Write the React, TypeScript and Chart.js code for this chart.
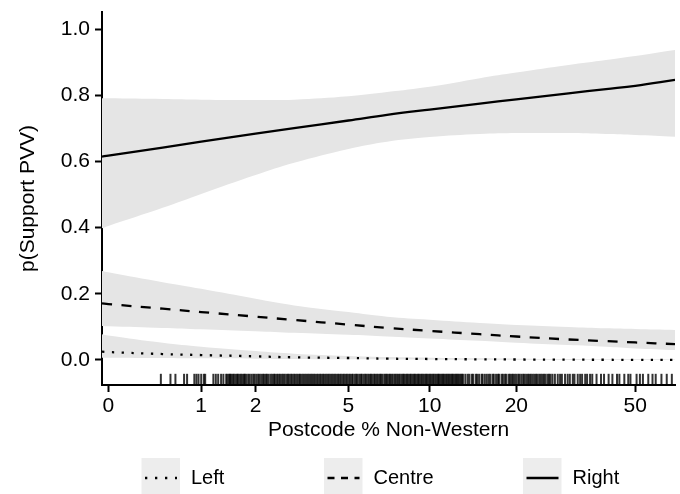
import React, { useEffect, useRef } from 'react';
import { Chart, registerables } from 'chart.js';

Chart.register(...registerables);

// ---- data (x in "Postcode % Non-Western", y = p(Support PVV)) ----
const X_PCT = [-0.046, 0, 0.5, 1, 2, 3, 5, 7, 10, 15, 20, 30, 40, 50, 67.6];

const RIGHT_FIT = [0.615, 0.618, 0.642, 0.660, 0.684, 0.701, 0.724, 0.741, 0.757, 0.775, 0.788, 0.806, 0.819, 0.829, 0.847];
const RIGHT_HI = [0.791, 0.791, 0.789, 0.787, 0.786, 0.787, 0.797, 0.810, 0.826, 0.852, 0.869, 0.892, 0.907, 0.919, 0.937];
const RIGHT_LO = [0.398, 0.405, 0.460, 0.502, 0.559, 0.596, 0.638, 0.660, 0.674, 0.683, 0.686, 0.686, 0.683, 0.680, 0.675];

const CENTRE_FIT = [0.171, 0.169, 0.155, 0.145, 0.131, 0.121, 0.107, 0.097, 0.088, 0.078, 0.071, 0.062, 0.057, 0.053, 0.048];
const CENTRE_HI = [0.269, 0.265, 0.235, 0.215, 0.185, 0.165, 0.145, 0.131, 0.122, 0.112, 0.106, 0.100, 0.096, 0.094, 0.091];
const CENTRE_LO = [0.103, 0.102, 0.097, 0.093, 0.087, 0.082, 0.076, 0.071, 0.065, 0.058, 0.052, 0.045, 0.040, 0.035, 0.030];

const LEFT_FIT = [0.025, 0.024, 0.018, 0.015, 0.011, 0.008, 0.006, 0.004, 0.003, 0.002, 0.0015, 0.001, 0.0007, 0.0005, 0.0003];
const LEFT_HI = [0.078, 0.074, 0.052, 0.040, 0.027, 0.019, 0.012, 0.009, 0.007, 0.005, 0.004, 0.003, 0.002, 0.002, 0.0015];
const LEFT_LO = [0.007, 0.007, 0.006, 0.005, 0.004, 0.003, 0.002, 0.0015, 0.001, 0.0007, 0.0005, 0.0003, 0.0002, 0.0001, 0.0001];

const GROUPS = ['Left', 'Centre', 'Right'];

const X_TICKS = [0, 1, 2, 5, 10, 20, 50];
const X_TICK_LABELS = ['0', '1', '2', '5', '10', '20', '50'];
const Y_TICKS = [0, 0.2, 0.4, 0.6, 0.8, 1.0];
const Y_TICK_LABELS = ['0.0', '0.2', '0.4', '0.6', '0.8', '1.0'];
const X_MIN_PCT = -0.046;
const X_MAX_PCT = 67.6;
const Y_MIN = -0.0756;
const Y_MAX = 1.052;

// observed postcode values (rug)
const RUG_PCT = [
  0.48, 0.59, 0.65, 0.76, 0.8, 0.9, 0.93, 0.96, 1.0, 1.04, 1.06, 1.19, 1.23, 1.27, 1.32, 1.36,
  1.41, 1.43, 1.46, 1.48, 1.5, 1.53, 1.55, 1.58, 1.61, 1.63, 1.66, 1.69, 1.72, 1.75, 1.77, 1.8, 1.84, 1.87, 1.91, 1.95, 1.98,
  2.02, 2.06, 2.09, 2.13, 2.17, 2.2, 2.24, 2.27, 2.31, 2.36, 2.4, 2.44, 2.47, 2.52, 2.56, 2.6, 2.65, 2.69, 2.73, 2.78,
  2.82, 2.86, 2.91, 2.95, 3.0, 3.04, 3.09, 3.14, 3.18, 3.23, 3.28, 3.33, 3.38, 3.43, 3.48, 3.53, 3.58, 3.63, 3.68, 3.74,
  3.79, 3.85, 3.9, 3.96, 4.01, 4.07, 4.13, 4.18, 4.24, 4.3, 4.36, 4.42, 4.48, 4.55, 4.61, 4.67, 4.74, 4.8, 4.87, 4.93,
  5.0, 5.07, 5.15, 5.2, 5.29, 5.36, 5.41, 5.5, 5.58, 5.63, 5.72, 5.8, 5.86, 5.95, 6.03, 6.1, 6.18, 6.27, 6.33, 6.42, 6.5,
  6.59, 6.66, 6.74, 6.85, 6.92, 7.0, 7.1, 7.18, 7.27, 7.35, 7.46, 7.53, 7.63, 7.72, 7.8, 7.91, 8.0, 8.08, 8.19, 8.28,
  8.37, 8.48, 8.56, 8.67, 8.77, 8.86, 8.97, 9.07, 9.16, 9.28, 9.37, 9.48, 9.59, 9.7, 9.8, 9.91,
  10.02, 10.13, 10.25, 10.34, 10.47, 10.58, 10.7, 10.79, 10.92, 11.03, 11.15, 11.26, 11.39, 11.5, 11.63, 11.74, 11.86,
  11.99, 12.1, 12.24, 12.36, 12.47, 12.6, 12.73, 12.86, 12.98, 13.1,
  13.35, 13.6, 13.78, 14.05, 14.2, 14.5, 14.66, 14.9, 15.2, 15.33, 15.6, 15.85, 16.1, 16.3, 16.6, 16.75, 17.05, 17.3,
  17.45, 17.8, 18.0, 18.3, 18.5, 18.85, 19.05, 19.3, 19.5,
  19.75, 20.0, 20.3, 20.5, 20.8, 21.1, 21.3, 21.6, 21.9, 22.15, 22.4, 22.7, 23.0, 23.3, 23.55, 23.9, 24.2, 24.5, 24.8,
  25.1, 25.5, 25.8, 26.1, 26.5,
  27.0, 27.6, 28.1, 28.5, 29.2, 29.8, 30.3, 31.0, 31.4, 32.2, 32.8, 33.3, 34.1, 34.6, 35.4, 36.0,
  37.2, 38.5, 39.4, 40.8, 42.0, 43.5, 44.3, 46.0, 47.4, 48.2, 50.5, 51.8, 53.0, 55.2, 57.0, 58.4, 61.0, 63.5, 66.0,
];

// ---- styling ----
const FONT = "'Liberation Sans', Arial, Helvetica, sans-serif";
const BAND = '#e5e5e5';
const LINE_W = 2.3;
const DASHES: Record<string, number[]> = {
  Left: [2.3, 7.5],
  Centre: [10, 9.5],
  Right: [],
};
const LEGEND_DASHES: Record<string, number[]> = {
  Left: [2.3, 7.7],
  Centre: [7, 6.5],
  Right: [],
};
const LEGEND_KEY_X = [141.5, 324, 523];

const tx = (v: number) => Math.log1p(v);
const pts = (ys: number[]) => X_PCT.map((x, i) => ({ x: tx(x), y: ys[i] }));

const rugPlugin = {
  id: 'rug',
  afterDatasetsDraw(chart: any) {
    const { ctx, chartArea, scales } = chart;
    const xs = scales.x;
    const len = (chartArea.bottom - chartArea.top) * 0.03;
    ctx.save();
    ctx.strokeStyle = 'rgba(0,0,0,0.8)';
    ctx.lineWidth = 2;
    for (const v of RUG_PCT) {
      const px = xs.getPixelForValue(tx(v));
      ctx.beginPath();
      ctx.moveTo(px, chartArea.bottom);
      ctx.lineTo(px, chartArea.bottom - len);
      ctx.stroke();
    }
    ctx.restore();
  },
};

const legendPlugin = {
  id: 'ggLegend',
  afterDraw(chart: any) {
    const { ctx } = chart;
    const keyW = 38.5;
    const keyH = 40;
    const keyTop = 458;
    const midY = keyTop + keyH / 2;
    const textGap = 11;
    ctx.save();
    ctx.font = `20px ${FONT}`;
    ctx.textBaseline = 'middle';
    ctx.textAlign = 'left';
    GROUPS.forEach((g, i) => {
      const x = LEGEND_KEY_X[i];
      ctx.fillStyle = '#ededed';
      ctx.fillRect(x, keyTop, keyW, keyH);
      ctx.strokeStyle = '#000';
      ctx.lineWidth = LINE_W;
      ctx.lineCap = 'butt';
      ctx.setLineDash(LEGEND_DASHES[g]);
      ctx.beginPath();
      ctx.moveTo(x + 3.5, midY);
      ctx.lineTo(x + keyW - 3, midY);
      ctx.stroke();
      ctx.setLineDash([]);
      ctx.fillStyle = '#000';
      ctx.fillText(g, x + keyW + textGap, midY);
    });
    ctx.restore();
  },
};

export default function App() {
  const ref = useRef<HTMLCanvasElement | null>(null);

  useEffect(() => {
    if (!ref.current) return;
    const fits: Record<string, number[]> = { Left: LEFT_FIT, Centre: CENTRE_FIT, Right: RIGHT_FIT };
    const his: Record<string, number[]> = { Left: LEFT_HI, Centre: CENTRE_HI, Right: RIGHT_HI };
    const los: Record<string, number[]> = { Left: LEFT_LO, Centre: CENTRE_LO, Right: RIGHT_LO };

    const lineSets = GROUPS.map((g) => ({
      label: g,
      data: pts(fits[g]),
      borderColor: '#000',
      borderWidth: LINE_W,
      borderDash: DASHES[g],
      borderCapStyle: 'butt',
      fill: false,
      pointRadius: 0,
      tension: 0.4,
    }));
    const bandSets: any[] = [];
    GROUPS.forEach((g) => {
      bandSets.push({
        label: g + ' upper',
        data: pts(his[g]),
        borderWidth: 0,
        borderColor: 'rgba(0,0,0,0)',
        backgroundColor: BAND,
        fill: '+1',
        pointRadius: 0,
        tension: 0.4,
      });
      bandSets.push({
        label: g + ' lower',
        data: pts(los[g]),
        borderWidth: 0,
        borderColor: 'rgba(0,0,0,0)',
        backgroundColor: BAND,
        fill: false,
        pointRadius: 0,
        tension: 0.4,
      });
    });

    const tickFont = { family: FONT, size: 21 };

    const chart = new Chart(ref.current, {
      type: 'line',
      data: { datasets: [...lineSets, ...bandSets] as any },
      options: {
        responsive: false,
        animation: false,
        events: [],
        layout: { padding: { top: 12, right: 5, bottom: 50.9, left: 0 } },
        plugins: {
          legend: { display: false },
          tooltip: { enabled: false },
        },
        scales: {
          x: {
            type: 'linear',
            min: tx(X_MIN_PCT),
            max: tx(X_MAX_PCT),
            afterBuildTicks: (s: any) => {
              s.ticks = X_TICKS.map((v) => ({ value: tx(v) }));
            },
            afterFit: (s: any) => {
              s.height = 58.1;
              s.paddingLeft = 0;
              s.paddingRight = 0;
            },
            ticks: {
              autoSkip: false,
              maxRotation: 0,
              padding: 2,
              color: '#000',
              font: tickFont,
              callback: (_v: any, i: number) => X_TICK_LABELS[i],
            },
            grid: {
              display: true,
              drawOnChartArea: false,
              drawTicks: true,
              tickLength: 7,
              tickColor: '#000',
              tickWidth: 2,
            },
            border: { display: true, color: '#000', width: 2 },
            title: {
              display: true,
              text: 'Postcode % Non-Western',
              color: '#000',
              font: tickFont,
              padding: { top: 0, bottom: 0 },
            },
          },
          y: {
            type: 'linear',
            min: Y_MIN,
            max: Y_MAX,
            afterBuildTicks: (s: any) => {
              s.ticks = Y_TICKS.map((v) => ({ value: v }));
            },
            afterFit: (s: any) => {
              s.width = 102;
              s.paddingTop = 0;
              s.paddingBottom = 0;
            },
            ticks: {
              autoSkip: false,
              padding: 5,
              color: '#000',
              font: tickFont,
              callback: (_v: any, i: number) => Y_TICK_LABELS[i],
            },
            grid: {
              display: true,
              drawOnChartArea: false,
              drawTicks: true,
              tickLength: 7,
              tickColor: '#000',
              tickWidth: 2,
            },
            border: { display: true, color: '#000', width: 2 },
            title: {
              display: true,
              text: 'p(Support PVV)',
              color: '#000',
              font: tickFont,
              padding: { top: 16, bottom: 0 },
            },
          },
        },
      } as any,
      plugins: [rugPlugin, legendPlugin],
    });
    return () => chart.destroy();
  }, []);

  return (
    <div style={{ position: 'absolute', left: 0, top: 0, width: 680, height: 494, background: '#fff' }}>
      <canvas ref={ref} width={680} height={494} style={{ display: 'block' }} />
    </div>
  );
}
